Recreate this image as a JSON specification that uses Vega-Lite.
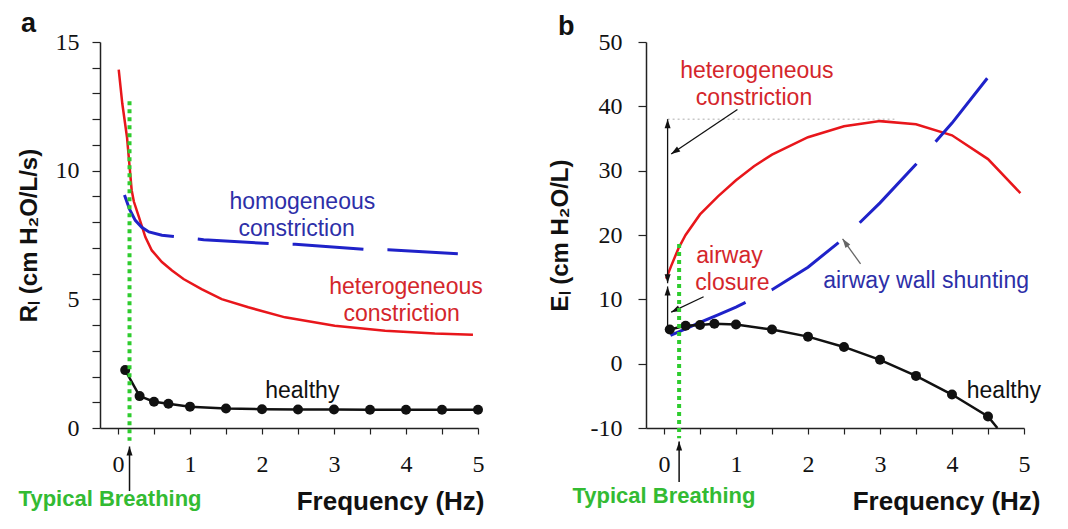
{
  "$schema": "https://vega.github.io/schema/vega-lite/v6.json",
  "background": "white",
  "padding": {"left": 17, "top": 10, "right": 10, "bottom": 6},
  "bounds": "flush",
  "spacing": 168,
  "config": {
    "view": {"stroke": null},
    "font": "Liberation Sans",
    "axis": {
      "grid": false,
      "domainColor": "#222222",
      "domainWidth": 1.5,
      "tickColor": "#222222",
      "tickWidth": 1.2,
      "labelFont": "Liberation Serif",
      "labelFontSize": 24,
      "labelColor": "#111111",
      "labelOverlap": false,
      "labelFlush": false,
      "titleFont": "Liberation Sans",
      "titleFontWeight": "bold",
      "titleColor": "#111111"
    }
  },
  "datasets": {
    "a_lines": [
      {"s": "het", "f": 0.01, "v": 13.93},
      {"s": "het", "f": 0.06, "v": 12.6},
      {"s": "het", "f": 0.125, "v": 11.3},
      {"s": "het", "f": 0.19, "v": 9.24},
      {"s": "het", "f": 0.22, "v": 8.8},
      {"s": "het", "f": 0.29, "v": 8.2},
      {"s": "het", "f": 0.38, "v": 7.42},
      {"s": "het", "f": 0.47, "v": 6.9},
      {"s": "het", "f": 0.61, "v": 6.45},
      {"s": "het", "f": 0.75, "v": 6.12},
      {"s": "het", "f": 0.91, "v": 5.79},
      {"s": "het", "f": 1.16, "v": 5.4},
      {"s": "het", "f": 1.44, "v": 5.01},
      {"s": "het", "f": 1.81, "v": 4.69},
      {"s": "het", "f": 2.32, "v": 4.3},
      {"s": "het", "f": 3.01, "v": 3.97},
      {"s": "het", "f": 3.71, "v": 3.78},
      {"s": "het", "f": 4.4, "v": 3.67},
      {"s": "het", "f": 4.93, "v": 3.62},
      {"s": "hom", "f": 0.09, "v": 9.05},
      {"s": "hom", "f": 0.16, "v": 8.5},
      {"s": "hom", "f": 0.24, "v": 8.07},
      {"s": "hom", "f": 0.33, "v": 7.8},
      {"s": "hom", "f": 0.43, "v": 7.62},
      {"s": "hom", "f": 0.61, "v": 7.49},
      {"s": "hom", "f": 0.84, "v": 7.42},
      {"s": "hom", "f": 1.19, "v": 7.32},
      {"s": "hom", "f": 2.13, "v": 7.16},
      {"s": "hom", "f": 2.46, "v": 7.14},
      {"s": "hom", "f": 3.43, "v": 6.94},
      {"s": "hom", "f": 3.75, "v": 6.93},
      {"s": "hom", "f": 4.72, "v": 6.77},
      {"s": "healthy", "f": 0.1, "v": 2.25},
      {"s": "healthy", "f": 0.3, "v": 1.24},
      {"s": "healthy", "f": 0.5, "v": 1.02},
      {"s": "healthy", "f": 0.7, "v": 0.94},
      {"s": "healthy", "f": 1.0, "v": 0.83},
      {"s": "healthy", "f": 1.5, "v": 0.76},
      {"s": "healthy", "f": 2.0, "v": 0.73},
      {"s": "healthy", "f": 2.5, "v": 0.72},
      {"s": "healthy", "f": 3.0, "v": 0.72},
      {"s": "healthy", "f": 3.5, "v": 0.71},
      {"s": "healthy", "f": 4.0, "v": 0.71},
      {"s": "healthy", "f": 4.5, "v": 0.71},
      {"s": "healthy", "f": 5.0, "v": 0.71}
    ],
    "a_text": [
      {"s": "hom", "f": 2.56, "v": 8.79, "t": "homogeneous"},
      {"s": "hom", "f": 2.48, "v": 7.75, "t": "constriction"},
      {"s": "het", "f": 4.0, "v": 5.47, "t": "heterogeneous"},
      {"s": "het", "f": 3.94, "v": 4.43, "t": "constriction"},
      {"s": "healthy", "f": 2.56, "v": 1.43, "t": "healthy"}
    ],
    "a_breath": [
      {"f": 0.16, "v": 12.7, "v2": -0.5, "af": 0.16, "atip": -0.72, "abot": -2.45, "tf": -0.11, "tv": -2.75, "t": "Typical Breathing"}
    ],
    "b_lines": [
      {"s": "het", "f": 0.03, "v": 13.2, "m": 0},
      {"s": "het", "f": 0.1, "v": 15.2, "m": 0},
      {"s": "het", "f": 0.2, "v": 17.9, "m": 0},
      {"s": "het", "f": 0.3, "v": 20.0, "m": 0},
      {"s": "het", "f": 0.5, "v": 23.2, "m": 0},
      {"s": "het", "f": 0.75, "v": 26.0, "m": 0},
      {"s": "het", "f": 1.0, "v": 28.5, "m": 0},
      {"s": "het", "f": 1.25, "v": 30.7, "m": 0},
      {"s": "het", "f": 1.5, "v": 32.5, "m": 0},
      {"s": "het", "f": 2.0, "v": 35.2, "m": 0},
      {"s": "het", "f": 2.5, "v": 36.9, "m": 0},
      {"s": "het", "f": 3.0, "v": 37.7, "m": 0},
      {"s": "het", "f": 3.5, "v": 37.2, "m": 0},
      {"s": "het", "f": 4.0, "v": 35.5, "m": 0},
      {"s": "het", "f": 4.5, "v": 31.8, "m": 0},
      {"s": "het", "f": 4.95, "v": 26.5, "m": 0},
      {"s": "hom", "f": 0.09, "v": 4.4, "m": 0},
      {"s": "hom", "f": 0.3, "v": 5.4, "m": 0},
      {"s": "hom", "f": 0.5, "v": 6.4, "m": 0},
      {"s": "hom", "f": 0.75, "v": 7.6, "m": 0},
      {"s": "hom", "f": 1.0, "v": 8.8, "m": 0},
      {"s": "hom", "f": 1.5, "v": 11.5, "m": 0},
      {"s": "hom", "f": 2.0, "v": 15.0, "m": 0},
      {"s": "hom", "f": 2.5, "v": 19.5, "m": 0},
      {"s": "hom", "f": 3.0, "v": 25.0, "m": 0},
      {"s": "hom", "f": 3.5, "v": 31.0, "m": 0},
      {"s": "hom", "f": 4.0, "v": 37.4, "m": 0},
      {"s": "hom", "f": 4.52, "v": 44.8, "m": 0},
      {"s": "healthy", "f": 0.08, "v": 5.3, "m": 1},
      {"s": "healthy", "f": 0.3, "v": 5.9, "m": 1},
      {"s": "healthy", "f": 0.5, "v": 6.0, "m": 1},
      {"s": "healthy", "f": 0.7, "v": 6.2, "m": 1},
      {"s": "healthy", "f": 1.0, "v": 6.1, "m": 1},
      {"s": "healthy", "f": 1.5, "v": 5.3, "m": 1},
      {"s": "healthy", "f": 2.0, "v": 4.2, "m": 1},
      {"s": "healthy", "f": 2.5, "v": 2.6, "m": 1},
      {"s": "healthy", "f": 3.0, "v": 0.6, "m": 1},
      {"s": "healthy", "f": 3.5, "v": -1.9, "m": 1},
      {"s": "healthy", "f": 4.0, "v": -4.8, "m": 1},
      {"s": "healthy", "f": 4.5, "v": -8.2, "m": 1},
      {"s": "healthy", "f": 4.63, "v": -10.0, "m": 0}
    ],
    "b_text": [
      {"s": "het", "f": 1.29, "v": 45.5, "t": "heterogeneous"},
      {"s": "het", "f": 1.25, "v": 41.3, "t": "constriction"},
      {"s": "het", "f": 0.91, "v": 16.8, "t": "airway"},
      {"s": "het", "f": 0.95, "v": 12.5, "t": "closure"},
      {"s": "hom", "f": 3.64, "v": 12.9, "t": "airway wall shunting"},
      {"s": "healthy", "f": 4.72, "v": -4.3, "t": "healthy"}
    ],
    "b_shafts": [
      {"s": "annot", "f": 1.02, "v": 39.5, "f2": 0.1, "v2": 32.6},
      {"s": "annot", "f": 0.05, "v": 38.0, "f2": 0.05, "v2": 12.5},
      {"s": "annot", "f": 0.05, "v": 5.6, "f2": 0.05, "v2": 12.0},
      {"s": "annot", "f": 0.55, "v": 10.4, "f2": 0.1, "v2": 8.0},
      {"s": "shunt", "f": 2.73, "v": 15.5, "f2": 2.48, "v2": 19.4}
    ],
    "b_heads": [
      {"s": "annot", "f": 0.1, "v": 32.6, "ang": 236},
      {"s": "annot", "f": 0.05, "v": 38.0, "ang": 0},
      {"s": "annot", "f": 0.05, "v": 12.5, "ang": 180},
      {"s": "annot", "f": 0.05, "v": 12.0, "ang": 0},
      {"s": "annot", "f": 0.1, "v": 8.0, "ang": 244},
      {"s": "shunt", "f": 2.48, "v": 19.4, "ang": 324}
    ],
    "b_peak": [
      {"f": 0.05, "f2": 3.2, "v": 38.0}
    ],
    "b_breath": [
      {"f": 0.21, "v": 18.6, "v2": -11.6, "af": 0.21, "atip": -12.1, "abot": -18.4, "tf": 0.0, "tv": -20.6, "t": "Typical Breathing"}
    ]
  },
  "hconcat": [
    {
      "width": 378,
      "height": 386,
      "title": {"text": "a", "anchor": "start", "frame": "group", "dx": -79, "offset": -29, "dy": 0, "baseline": "alphabetic", "fontSize": 27, "fontWeight": "bold", "font": "Liberation Sans", "color": "#111111"},
      "layer": [
        {
          "data": {"name": "a_lines"},
          "transform": [{"filter": "datum.s === 'het'"}],
          "mark": {"type": "line", "color": "#e8161b", "strokeWidth": 2.5},
          "encoding": {
            "x": {"field": "f", "type": "quantitative",
              "scale": {"domain": [-0.25, 5], "nice": false, "zero": false},
              "axis": {"title": "Frequency (Hz)", "values": [0, 0.5, 1, 1.5, 2, 2.5, 3, 3.5, 4, 4.5, 5], "tickCount": 30,
                "labelExpr": "datum.value % 1 === 0 ? format(datum.value, 'd') : ''", "labelOverlap": false, "tickSize": 6, "labelPadding": 18,
                "titleFontSize": 26, "titleX": 384, "titleY": 73, "titleAlign": "right", "titleBaseline": "middle"}},
            "y": {"field": "v", "type": "quantitative",
              "scale": {"domain": [0, 15], "nice": false, "zero": false},
              "axis": {"title": "Rₗ (cm H₂O/L/s)", "values": [0, 1, 2, 3, 4, 5, 6, 7, 8, 9, 10, 11, 12, 13, 14, 15], "tickCount": 30,
                "labelExpr": "datum.value % 5 === 0 ? format(datum.value, 'd') : ''", "labelOverlap": false, "tickSize": 8, "labelPadding": 13,
                "titleFontSize": 24, "titlePadding": 14}}
          }
        },
        {
          "data": {"name": "a_lines"},
          "transform": [{"filter": "datum.s === 'hom'"}],
          "mark": {"type": "line", "color": "#1f22c9", "strokeWidth": 3, "strokeDash": [71, 24]},
          "encoding": {
            "x": {"field": "f", "type": "quantitative"},
            "y": {"field": "v", "type": "quantitative"}
          }
        },
        {
          "data": {"name": "a_lines"},
          "transform": [{"filter": "datum.s === 'healthy'"}],
          "mark": {"type": "line", "color": "#111111", "strokeWidth": 2.5},
          "encoding": {
            "x": {"field": "f", "type": "quantitative"},
            "y": {"field": "v", "type": "quantitative"}
          }
        },
        {
          "data": {"name": "a_lines"},
          "transform": [{"filter": "datum.s === 'healthy'"}],
          "mark": {"type": "point", "filled": true, "color": "#111111", "size": 100, "opacity": 1},
          "encoding": {
            "x": {"field": "f", "type": "quantitative"},
            "y": {"field": "v", "type": "quantitative"}
          }
        },
        {
          "data": {"name": "a_breath"},
          "mark": {"type": "rule", "color": "#2ecc2e", "strokeWidth": 4, "strokeDash": [4, 4]},
          "encoding": {
            "x": {"field": "f", "type": "quantitative"},
            "y": {"field": "v", "type": "quantitative"},
            "y2": {"field": "v2"}
          }
        },
        {
          "data": {"name": "a_breath"},
          "mark": {"type": "rule", "color": "#111111", "strokeWidth": 1.5},
          "encoding": {
            "x": {"field": "af", "type": "quantitative"},
            "y": {"field": "atip", "type": "quantitative"},
            "y2": {"field": "abot"}
          }
        },
        {
          "data": {"name": "a_breath"},
          "mark": {"type": "point", "shape": "M0,0L0.4,1.2L-0.4,1.2Z", "filled": true, "color": "#111111", "size": 225, "opacity": 1},
          "encoding": {
            "x": {"field": "af", "type": "quantitative"},
            "y": {"field": "atip", "type": "quantitative"}
          }
        },
        {
          "data": {"name": "a_text"},
          "mark": {"type": "text", "fontSize": 23, "font": "Liberation Sans", "baseline": "middle", "align": "center"},
          "encoding": {
            "x": {"field": "f", "type": "quantitative"},
            "y": {"field": "v", "type": "quantitative"},
            "text": {"field": "t"},
            "color": {"field": "s", "type": "nominal", "legend": null,
              "scale": {"domain": ["het", "hom", "healthy", "annot", "shunt"], "range": ["#d4262b", "#2d2fa8", "#111111", "#111111", "#666666"]}}
          }
        },
        {
          "data": {"name": "a_breath"},
          "mark": {"type": "text", "fontSize": 22, "fontWeight": "bold", "font": "Liberation Sans", "color": "#33bb33", "baseline": "middle", "align": "center"},
          "encoding": {
            "x": {"field": "tf", "type": "quantitative"},
            "y": {"field": "tv", "type": "quantitative"},
            "text": {"field": "t"}
          }
        }
      ]
    },
    {
      "width": 378,
      "height": 386,
      "title": {"text": "b", "anchor": "start", "frame": "group", "dx": -88, "offset": -29, "dy": 3, "baseline": "alphabetic", "fontSize": 27, "fontWeight": "bold", "font": "Liberation Sans", "color": "#111111"},
      "layer": [
        {
          "data": {"name": "b_peak"},
          "mark": {"type": "rule", "color": "#c8c8c8", "strokeWidth": 1.5, "strokeDash": [2, 3]},
          "encoding": {
            "x": {"field": "f", "type": "quantitative",
              "scale": {"domain": [-0.25, 5], "nice": false, "zero": false},
              "axis": {"title": "Frequency (Hz)", "values": [0, 0.5, 1, 1.5, 2, 2.5, 3, 3.5, 4, 4.5, 5], "tickCount": 30,
                "labelExpr": "datum.value % 1 === 0 ? format(datum.value, 'd') : ''", "labelOverlap": false, "tickSize": 6, "labelPadding": 18,
                "titleFontSize": 26, "titleX": 394, "titleY": 73, "titleAlign": "right", "titleBaseline": "middle"}},
            "x2": {"field": "f2"},
            "y": {"field": "v", "type": "quantitative",
              "scale": {"domain": [-10, 50], "nice": false, "zero": false},
              "axis": {"title": "Eₗ (cm H₂O/L)", "values": [-10, 0, 10, 20, 30, 40, 50], "tickCount": 30, "labelOverlap": false,
                "labelExpr": "datum.value < 0 ? '-' + abs(datum.value) : '' + datum.value",
                "tickSize": 8, "labelPadding": 16, "titleFontSize": 24, "titlePadding": 18}}
          }
        },
        {
          "data": {"name": "b_lines"},
          "transform": [{"filter": "datum.s === 'het'"}],
          "mark": {"type": "line", "color": "#e8161b", "strokeWidth": 2.5},
          "encoding": {
            "x": {"field": "f", "type": "quantitative"},
            "y": {"field": "v", "type": "quantitative"}
          }
        },
        {
          "data": {"name": "b_lines"},
          "transform": [{"filter": "datum.s === 'hom'"}],
          "mark": {"type": "line", "color": "#1f22c9", "strokeWidth": 3, "strokeDash": [82, 29]},
          "encoding": {
            "x": {"field": "f", "type": "quantitative"},
            "y": {"field": "v", "type": "quantitative"}
          }
        },
        {
          "data": {"name": "b_lines"},
          "transform": [{"filter": "datum.s === 'healthy'"}],
          "mark": {"type": "line", "color": "#111111", "strokeWidth": 2.5},
          "encoding": {
            "x": {"field": "f", "type": "quantitative"},
            "y": {"field": "v", "type": "quantitative"}
          }
        },
        {
          "data": {"name": "b_lines"},
          "transform": [{"filter": "datum.s === 'healthy' && datum.m === 1"}],
          "mark": {"type": "point", "filled": true, "color": "#111111", "size": 100, "opacity": 1},
          "encoding": {
            "x": {"field": "f", "type": "quantitative"},
            "y": {"field": "v", "type": "quantitative"}
          }
        },
        {
          "data": {"name": "b_shafts"},
          "mark": {"type": "rule", "strokeWidth": 1.3},
          "encoding": {
            "x": {"field": "f", "type": "quantitative"},
            "y": {"field": "v", "type": "quantitative"},
            "x2": {"field": "f2"},
            "y2": {"field": "v2"},
            "color": {"field": "s", "type": "nominal", "legend": null,
              "scale": {"domain": ["het", "hom", "healthy", "annot", "shunt"], "range": ["#d4262b", "#2d2fa8", "#111111", "#111111", "#666666"]}}
          }
        },
        {
          "data": {"name": "b_heads"},
          "mark": {"type": "point", "shape": "M0,0L0.4,1.2L-0.4,1.2Z", "filled": true, "size": 225, "opacity": 1},
          "encoding": {
            "x": {"field": "f", "type": "quantitative"},
            "y": {"field": "v", "type": "quantitative"},
            "angle": {"field": "ang", "type": "quantitative", "scale": null},
            "color": {"field": "s", "type": "nominal", "legend": null,
              "scale": {"domain": ["het", "hom", "healthy", "annot", "shunt"], "range": ["#d4262b", "#2d2fa8", "#111111", "#111111", "#666666"]}}
          }
        },
        {
          "data": {"name": "b_breath"},
          "mark": {"type": "rule", "color": "#2ecc2e", "strokeWidth": 4, "strokeDash": [4, 4]},
          "encoding": {
            "x": {"field": "f", "type": "quantitative"},
            "y": {"field": "v", "type": "quantitative"},
            "y2": {"field": "v2"}
          }
        },
        {
          "data": {"name": "b_breath"},
          "mark": {"type": "rule", "color": "#111111", "strokeWidth": 1.5},
          "encoding": {
            "x": {"field": "af", "type": "quantitative"},
            "y": {"field": "atip", "type": "quantitative"},
            "y2": {"field": "abot"}
          }
        },
        {
          "data": {"name": "b_breath"},
          "mark": {"type": "point", "shape": "M0,0L0.4,1.2L-0.4,1.2Z", "filled": true, "color": "#111111", "size": 225, "opacity": 1},
          "encoding": {
            "x": {"field": "af", "type": "quantitative"},
            "y": {"field": "atip", "type": "quantitative"}
          }
        },
        {
          "data": {"name": "b_text"},
          "mark": {"type": "text", "fontSize": 23, "font": "Liberation Sans", "baseline": "middle", "align": "center"},
          "encoding": {
            "x": {"field": "f", "type": "quantitative"},
            "y": {"field": "v", "type": "quantitative"},
            "text": {"field": "t"},
            "color": {"field": "s", "type": "nominal", "legend": null,
              "scale": {"domain": ["het", "hom", "healthy", "annot", "shunt"], "range": ["#d4262b", "#2d2fa8", "#111111", "#111111", "#666666"]}}
          }
        },
        {
          "data": {"name": "b_breath"},
          "mark": {"type": "text", "fontSize": 22, "fontWeight": "bold", "font": "Liberation Sans", "color": "#33bb33", "baseline": "middle", "align": "center"},
          "encoding": {
            "x": {"field": "tf", "type": "quantitative"},
            "y": {"field": "tv", "type": "quantitative"},
            "text": {"field": "t"}
          }
        }
      ]
    }
  ]
}
